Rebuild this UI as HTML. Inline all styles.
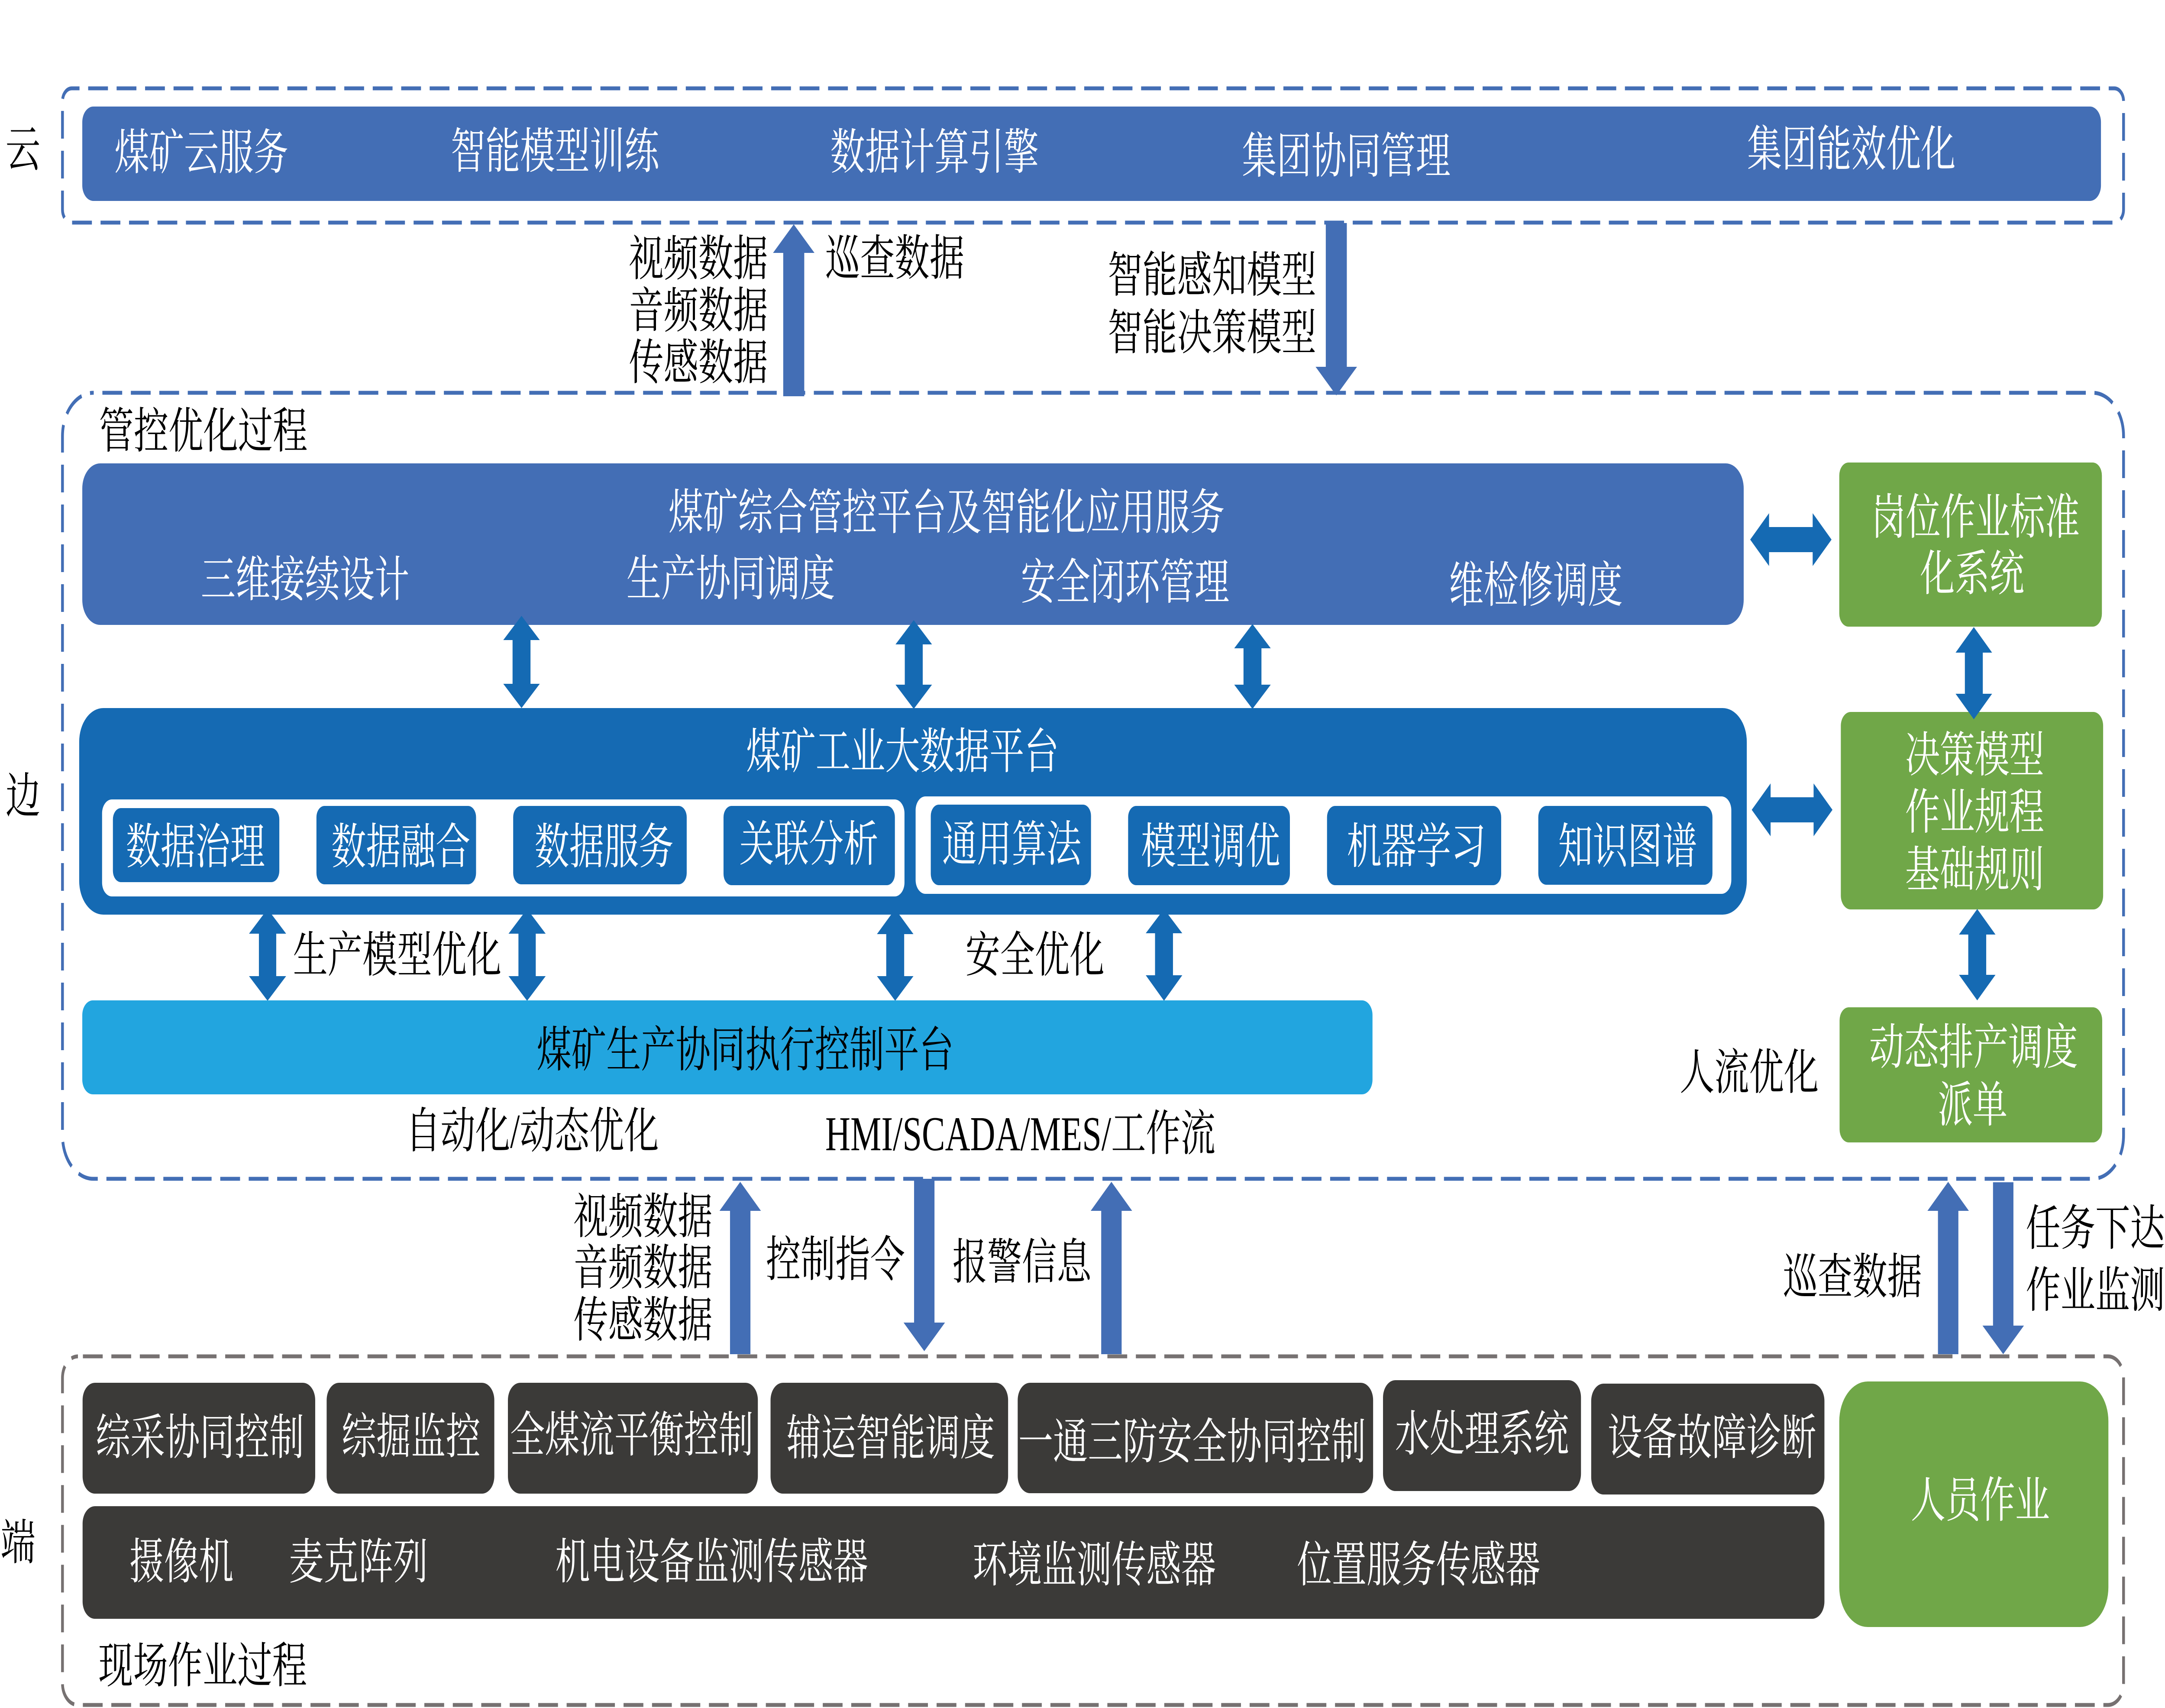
<!DOCTYPE html>
<html lang="zh">
<head>
<meta charset="utf-8">
<meta name="viewport" content="width=6999, initial-scale=1">
<style>
html,body{margin:0;padding:0;background:#fff;width:100%;height:100%;overflow:hidden}
svg{display:block;position:fixed;left:0;top:0;width:100vw;height:100vh}
text{font-family:"Liberation Serif","Noto Serif CJK SC",serif;font-size:112.4px;white-space:pre}
.w{fill:#fff}.k{fill:#000}
</style>
</head>
<body>
<svg xmlns="http://www.w3.org/2000/svg" viewBox="0 0 6999 3944" preserveAspectRatio="none">
<rect width="6999" height="3944" fill="#fff"/>

<!-- dashed containers -->
<g fill="none" stroke-width="9" stroke-dasharray="64 28">
<rect x="202" y="204" width="6663" height="310" rx="30" ry="30" stroke="#436EB5" stroke-dashoffset="39"/>
<rect x="202" y="907" width="6663" height="1815" rx="100" ry="100" stroke="#436EB5" stroke-dashoffset="63"/>
<rect x="202" y="3132" width="6663" height="805" rx="50" ry="50" stroke="#767171" stroke-dashoffset="76"/>
</g>

<!-- dark blue arrows behind platforms -->
<g fill="#156AB3">
<polygon points="865,2099 925,2156 893,2156 893,2254 925,2254 865,2311 805,2254 837,2254 837,2156 805,2156"/>
<polygon points="1704,2099 1764,2156 1732,2156 1732,2254 1764,2254 1704,2311 1644,2254 1676,2254 1676,2156 1644,2156"/>
<polygon points="2894,2099 2953,2157 2923,2157 2923,2254 2953,2254 2894,2311 2835,2254 2865,2254 2865,2157 2835,2157"/>
<polygon points="3763,2099 3822,2155 3792,2155 3792,2252 3822,2252 3763,2311 3704,2252 3734,2252 3734,2155 3704,2155"/>
</g>

<!-- cloud -->
<rect x="266" y="246" width="6526" height="218" rx="36" fill="#436EB5"/>

<!-- edge -->
<rect x="266" y="1070" width="5371" height="373" rx="58" fill="#436EB5"/>
<rect x="256" y="1635" width="5391" height="477" rx="78" fill="#156AB3"/>
<rect x="330" y="1846" width="2594" height="224" rx="32" fill="#fff"/>
<rect x="2960" y="1839" width="2637" height="225" rx="32" fill="#fff"/>
<g fill="#156AB3">
<rect x="365" y="1866" width="538" height="171" rx="26"/>
<rect x="1023" y="1861" width="516" height="181" rx="26"/>
<rect x="1659" y="1861" width="561" height="181" rx="26"/>
<rect x="2339" y="1861" width="554" height="183" rx="26"/>
<rect x="3009" y="1858" width="518" height="186" rx="26"/>
<rect x="3647" y="1861" width="523" height="183" rx="26"/>
<rect x="4290" y="1861" width="563" height="183" rx="26"/>
<rect x="4973" y="1861" width="563" height="182" rx="26"/>
</g>
<rect x="266" y="2310" width="4171" height="217" rx="34" fill="#22A5DF"/>

<g fill="#70A748">
<rect x="5946" y="1068" width="849" height="379" rx="30"/>
<rect x="5951" y="1644" width="848" height="456" rx="32"/>
<rect x="5947" y="2326" width="849" height="312" rx="30"/>
<rect x="5946" y="3190" width="870" height="567" rx="92"/>
</g>

<!-- field -->
<g fill="#3B3A38">
<rect x="267" y="3193" width="752" height="256" rx="40"/>
<rect x="1056" y="3193" width="542" height="256" rx="40"/>
<rect x="1642" y="3193" width="808" height="256" rx="40"/>
<rect x="2491" y="3193" width="768" height="256" rx="40"/>
<rect x="3290" y="3193" width="1149" height="255" rx="40"/>
<rect x="4471" y="3187" width="640" height="256" rx="40"/>
<rect x="5144" y="3195" width="754" height="256" rx="40"/>
<rect x="267" y="3478" width="5631" height="260" rx="40"/>
</g>

<!-- dark blue arrows on top -->
<g fill="#156AB3">
<polygon points="1686,1422 1745,1478 1715,1478 1715,1579 1745,1579 1686,1635 1627,1579 1657,1579 1657,1478 1627,1478"/>
<polygon points="2954,1432 3013,1488 2983,1488 2983,1581 3013,1581 2954,1637 2895,1581 2925,1581 2925,1488 2895,1488"/>
<polygon points="4049,1441 4108,1497 4078,1497 4078,1581 4108,1581 4049,1637 3990,1581 4020,1581 4020,1497 3990,1497"/>
<polygon points="6381,1448 6440,1507 6410,1507 6410,1602 6440,1602 6381,1661 6322,1602 6352,1602 6352,1507 6322,1507"/>
<polygon points="6392,2099 6451,2158 6421,2158 6421,2251 6451,2251 6392,2310 6333,2251 6363,2251 6363,2158 6333,2158"/>
<polygon points="5658,1246 5719,1185 5719,1217 5860,1217 5860,1185 5921,1246 5860,1307 5860,1275 5719,1275 5719,1307"/>
<polygon points="5663,1870 5724,1809 5724,1841 5863,1841 5863,1809 5924,1870 5863,1931 5863,1899 5724,1899 5724,1931"/>
</g>

<!-- mid-blue arrows -->
<g fill="#436EB5">
<polygon points="2566,518 2633,584 2600,584 2600,915 2532,915 2532,584 2499,584"/>
<polygon points="4286,515 4354,515 4354,847 4387,847 4320,913 4253,847 4286,847"/>
<polygon points="2393,2729 2460,2796 2426,2796 2426,3127 2360,3127 2360,2796 2326,2796"/>
<polygon points="2955,2722 3021,2722 3021,3054 3055,3054 2988,3120 2921,3054 2955,3054"/>
<polygon points="3593,2729 3660,2796 3626,2796 3626,3127 3560,3127 3560,2796 3526,2796"/>
<polygon points="6298,2729 6365,2796 6331,2796 6331,3127 6265,3127 6265,2796 6231,2796"/>
<polygon points="6443,2730 6509,2730 6509,3061 6543,3061 6476,3127 6409,3061 6443,3061"/>
</g>

<!-- black labels -->
<g class="k">
<text x="18" y="384">云</text>
<text x="18" y="1877">边</text>
<text x="2" y="3601">端</text>
<text x="2033" y="636">视频数据</text>
<text x="2033" y="756">音频数据</text>
<text x="2033" y="876">传感数据</text>
<text x="2668" y="635">巡查数据</text>
<text x="3581" y="674">智能感知模型</text>
<text x="3581" y="807">智能决策模型</text>
<text x="320" y="1034">管控优化过程</text>
<text x="947" y="2244">生产模型优化</text>
<text x="3121" y="2244">安全优化</text>
<text x="1735" y="2463">煤矿生产协同执行控制平台</text>
<text x="1312" y="2650">自动化/动态优化</text>
<text x="2668" y="2656">HMI/SCADA/MES/工作流</text>
<text x="5430" y="2515">人流优化</text>
<text x="1854" y="2848">视频数据</text>
<text x="1854" y="2966">音频数据</text>
<text x="1854" y="3087">传感数据</text>
<text x="2476" y="2947">控制指令</text>
<text x="3079" y="2953">报警信息</text>
<text x="5764" y="2987">巡查数据</text>
<text x="6549" y="2875">任务下达</text>
<text x="6549" y="3018">作业监测</text>
<text x="318" y="3885">现场作业过程</text>
</g>

<!-- white labels -->
<g class="w">
<text x="370" y="391">煤矿云服务</text>
<text x="1457" y="388">智能模型训练</text>
<text x="2684" y="390">数据计算引擎</text>
<text x="4015" y="399">集团协同管理</text>
<text x="5648" y="383">集团能效优化</text>
<text x="2161" y="1222">煤矿综合管控平台及智能化应用服务</text>
<text x="649" y="1377">三维接续设计</text>
<text x="2025" y="1375">生产协同调度</text>
<text x="3300" y="1383">安全闭环管理</text>
<text x="4684" y="1390">维检修调度</text>
<text x="2412" y="1774">煤矿工业大数据平台</text>
<text x="407" y="1994">数据治理</text>
<text x="1071" y="1994">数据融合</text>
<text x="1728" y="1994">数据服务</text>
<text x="2390" y="1988">关联分析</text>
<text x="3046" y="1988">通用算法</text>
<text x="3689" y="1993">模型调优</text>
<text x="4354" y="1993">机器学习</text>
<text x="5037" y="1993">知识图谱</text>
<text x="6049" y="1233">岗位作业标准</text>
<text x="6207" y="1363">化系统</text>
<text x="6159" y="1782">决策模型</text>
<text x="6159" y="1914">作业规程</text>
<text x="6159" y="2047">基础规则</text>
<text x="6043" y="2457">动态排产调度</text>
<text x="6265" y="2590">派单</text>
<text x="6177" y="3503">人员作业</text>
<text x="309" y="3358">综采协同控制</text>
<text x="1104" y="3356">综掘监控</text>
<text x="1649" y="3352">全煤流平衡控制</text>
<text x="2542" y="3359">辅运智能调度</text>
<text x="3292" y="3368">一通三防安全协同控制</text>
<text x="4510" y="3350">水处理系统</text>
<text x="5197" y="3358">设备故障诊断</text>
<text x="418" y="3645">摄像机</text>
<text x="934" y="3645">麦克阵列</text>
<text x="1795" y="3645">机电设备监测传感器</text>
<text x="3144" y="3652">环境监测传感器</text>
<text x="4193" y="3652">位置服务传感器</text>
</g>
</svg>
</body>
</html>
